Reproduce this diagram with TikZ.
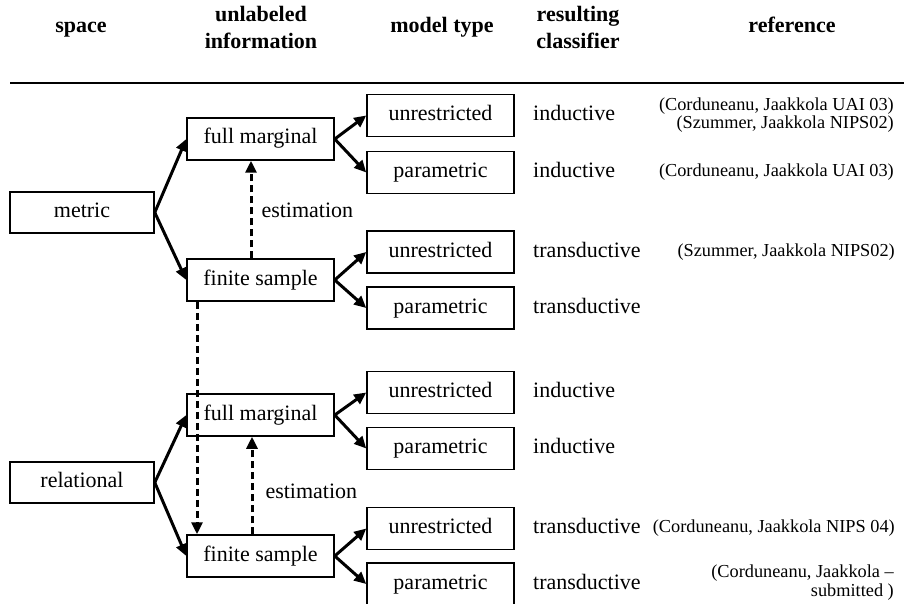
\documentclass[tikz,border=0pt]{standalone}
\usepackage{fontspec}
\setmainfont{Liberation Serif}
\usetikzlibrary{arrows.meta}
\begin{document}
\begin{tikzpicture}[x=1pt,y=-1pt,
  every node/.style={inner sep=0pt},
  hdr/.style={font=\fontsize{22}{27}\selectfont\bfseries,align=center,anchor=base},
  txt/.style={font=\fontsize{22}{26}\selectfont,text height=15pt,text depth=5pt},
  box/.style={txt,draw,line width=1.5pt,minimum width=147pt,minimum height=42pt},
  lbl/.style={txt,anchor=west},
  cite/.style={anchor=east,align=right,font=\fontsize{18.3}{16.5}\selectfont},
  branch/.style={line width=3pt,-{Triangle[length=12pt,width=11pt]}},
  est/.style={line width=3pt,dash pattern=on 7pt off 4pt,-{Triangle[length=12pt,width=11pt]}}]
\useasboundingbox (0,0) rectangle (904,604);
\node[hdr] (hspace) at (81,32.5) {space};
\node[hdr] (hinfo) at (261,49) {unlabeled\\information};
\node[hdr] (hmodel) at (442,32.5) {model type};
\node[hdr] (hclass) at (578,49) {resulting\\classifier};
\node[hdr] (href) at (792,32.5) {reference};
\draw[line width=2pt] (10,83) -- (904,83);
\node[box,minimum width=144pt,minimum height=41pt] (metric) at (82,212.5) {metric};
\node[box,minimum width=144pt,minimum height=41pt] (relational) at (82,482.5) {relational};
\node[box] (fm1) at (260.5,139) {full marginal};
\node[box] (fs1) at (260.5,280) {finite sample};
\node[box] (fm2) at (260.5,415) {full marginal};
\node[box] (fs2) at (260.5,556) {finite sample};
\node[box] (u1) at (440.5,115.5) {unrestricted};
\node[box] (p1) at (440.5,172.5) {parametric};
\node[box] (u2) at (440.5,252) {unrestricted};
\node[box] (p2) at (440.5,308) {parametric};
\node[box] (u3) at (440.5,392.5) {unrestricted};
\node[box] (p3) at (440.5,448.5) {parametric};
\node[box] (u4) at (440.5,528.5) {unrestricted};
\node[box] (p4) at (440.5,584) {parametric};
\node[lbl] (c1) at (533,115.5) {inductive};
\node[lbl] (c2) at (533,172.5) {inductive};
\node[lbl] (c3) at (533,252) {transductive};
\node[lbl] (c4) at (533,308) {transductive};
\node[lbl] (c5) at (533,392.5) {inductive};
\node[lbl] (c6) at (533,448.5) {inductive};
\node[lbl] (c7) at (533,528.5) {transductive};
\node[lbl] (c8) at (533,584) {transductive};
\node[cite] (r1) at (894,115) {(Corduneanu, Jaakkola UAI 03)\\(Szummer, Jaakkola NIPS02)};
\node[cite] (r2) at (894,172.5) {(Corduneanu, Jaakkola UAI 03)};
\node[cite] (r3) at (895,252) {(Szummer, Jaakkola NIPS02)};
\node[cite] (r7) at (895,528.5) {(Corduneanu, Jaakkola NIPS 04)};
\node[cite] (r8) at (894,583) {(Corduneanu, Jaakkola \textendash\\[1.5pt]submitted )};
\draw[branch] (metric.east) -- (fm1.west);
\draw[branch] (metric.east) -- (fs1.west);
\draw[branch] (relational.east) -- (fm2.west);
\draw[branch] (relational.east) -- (fs2.west);
\draw[branch] (fm1.east) -- (u1.west);
\draw[branch] (fm1.east) -- (p1.west);
\draw[branch] (fs1.east) -- (u2.west);
\draw[branch] (fs1.east) -- (p2.west);
\draw[branch] (fm2.east) -- (u3.west);
\draw[branch] (fm2.east) -- (p3.west);
\draw[branch] (fs2.east) -- (u4.west);
\draw[branch] (fs2.east) -- (p4.west);
\draw[est] ([xshift=-9.5pt]fs1.north) -- node[lbl,pos=.47,right=9pt] (e1) {estimation} ([xshift=-9.5pt]fm1.south);
\draw[est] ([xshift=-8.5pt]fs2.north) -- node[lbl,pos=.42,right=12pt] (e2) {estimation} ([xshift=-8.5pt]fm2.south);
\draw[est] ([xshift=-63.5pt]fs1.south) -- ([xshift=-63.5pt]fs2.north);
\end{tikzpicture}
\end{document}
